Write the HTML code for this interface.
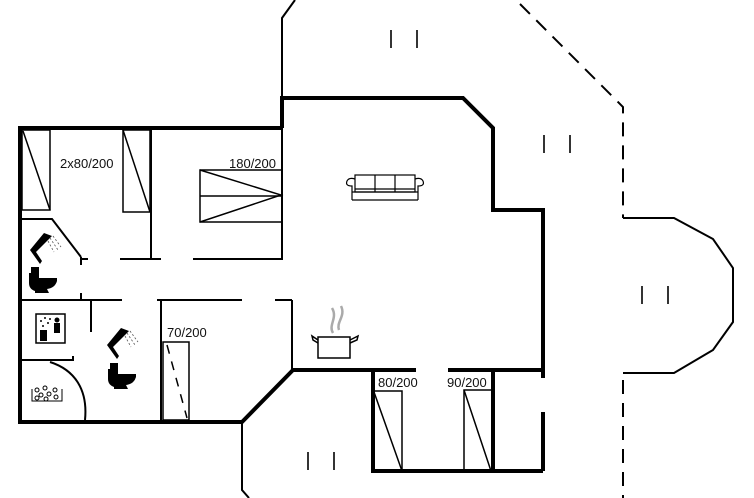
<!DOCTYPE html>
<html><head><meta charset="utf-8"><style>
html,body{margin:0;padding:0;background:#fff;}
svg{display:block;}
text{font-family:"Liberation Sans",sans-serif;font-size:13px;fill:#111;}
</style></head><body>
<svg width="754" height="498" viewBox="0 0 754 498" xmlns="http://www.w3.org/2000/svg">
<g fill="none" stroke="#000" stroke-linecap="butt" stroke-linejoin="miter">
<!-- thin outer terrace -->
<g stroke-width="2">
<polyline points="282,98 282,18 295,0"/>
<polyline points="623,218 674,218 713,239 733,268 733,322 713,350 674,373 623,373"/>
<polyline points="242,421 242,490 249,498"/>
</g>
<g stroke-width="2" stroke-dasharray="14,9">
<polyline points="520,4 623,107 623,218"/>
<line x1="623" y1="380" x2="623" y2="498"/>
</g>
<!-- thick walls -->
<g stroke-width="4">
<polyline points="282,128 282,98 463,98 493,128 493,210 543,210 543,378"/>
<line x1="543" y1="412" x2="543" y2="471"/>
<polyline points="20,128 282,128"/>
<polyline points="20,126 20,422 242,422 293,370 373,370"/>
<polyline points="373,370 373,471 543,471"/>
<line x1="493" y1="370" x2="493" y2="471"/>
<line x1="448" y1="370" x2="543" y2="370"/>
<line x1="373" y1="370" x2="416" y2="370"/>
</g>
<!-- thin interior walls -->
<g stroke-width="2">
<line x1="282" y1="128" x2="282" y2="259"/>
<line x1="151" y1="128" x2="151" y2="259"/>
<line x1="81" y1="259" x2="88" y2="259"/>
<line x1="120" y1="259" x2="161" y2="259"/>
<line x1="193" y1="259" x2="283" y2="259"/>
<polyline points="22,219 52,219 81,257"/>
<line x1="81" y1="257" x2="81" y2="265"/>
<line x1="81" y1="293" x2="81" y2="300"/>
<line x1="20" y1="300" x2="122" y2="300"/>
<line x1="157" y1="300" x2="242" y2="300"/>
<line x1="275" y1="300" x2="292" y2="300"/>
<line x1="292" y1="300" x2="292" y2="370"/>
<line x1="91" y1="300" x2="91" y2="332"/>
<polyline points="22,360 73,360 73,356"/>
<line x1="161" y1="300" x2="161" y2="420"/>
<path d="M50,362 C75,370 88,390 85,420"/>
</g>
<!-- beds -->
<g stroke-width="1.5">
<rect x="22" y="130" width="28" height="80"/><line x1="23" y1="131" x2="50" y2="210"/>
<rect x="123" y="130" width="27" height="82"/><line x1="123" y1="130" x2="150" y2="212"/>
<rect x="200" y="170" width="82" height="52"/><line x1="200" y1="196" x2="282" y2="196"/>
<polyline points="200,170 281,195 200,222"/>
<rect x="163" y="342" width="26" height="78"/>
<line x1="167" y1="345" x2="187" y2="418" stroke-dasharray="9,8"/>
<rect x="374" y="391" width="28" height="80"/><line x1="374" y1="392" x2="402" y2="471"/>
<rect x="464" y="390" width="29" height="81"/><line x1="464" y1="390" x2="491" y2="471"/>
</g>
<!-- ticks -->
<g stroke-width="1.6">
<line x1="391" y1="30" x2="391" y2="48"/><line x1="417" y1="30" x2="417" y2="48"/>
<line x1="544" y1="135" x2="544" y2="153"/><line x1="570" y1="135" x2="570" y2="153"/>
<line x1="642" y1="286" x2="642" y2="304"/><line x1="668" y1="286" x2="668" y2="304"/>
<line x1="308" y1="452" x2="308" y2="470"/><line x1="334" y1="452" x2="334" y2="470"/>
</g>
<!-- sofa -->
<g stroke-width="1.2">
<rect x="355" y="175" width="60" height="17"/>
<line x1="375" y1="175" x2="375" y2="192"/><line x1="395" y1="175" x2="395" y2="192"/>
<line x1="355" y1="189" x2="415" y2="189"/>
<path d="M352,200 L352,186 Q345,186 347,181 Q349,177 355,179"/>
<path d="M418,200 L418,186 Q425,186 423,181 Q421,177 415,179"/>
<line x1="352" y1="200" x2="418" y2="200"/>
<line x1="352" y1="192" x2="418" y2="192"/>
</g>
<!-- pot -->
<g stroke-width="1.5">
<rect x="318" y="337" width="32" height="21"/>
<path d="M318,340 L312,336 L313,340 L318,343"/>
<path d="M350,340 L358,336 L357,340 L350,343"/>
</g>
<g stroke="#aaa" stroke-width="2.5">
<path d="M333,333 C328,325 338,318 332,308"/>
<path d="M339,330 C336,322 346,316 341,306"/>
</g>
</g>
<!-- bathroom icons -->
<g fill="#000">
<path d="M30,250 L44,233 L52,236 L48,240 L36,252 L42,261 L40,264 Z"/>
<path d="M31,267 h8 v6 h-8z M29,273 h10 v5 h18 v3 q-2,7 -10,8 l2,4 h-14 v-2 q-6,-2 -6,-8z"/>
<path d="M107,345 L121,328 L129,331 L125,335 L113,347 L119,356 L117,359 Z"/>
<path d="M110,363 h8 v6 h-8z M108,369 h10 v5 h18 v3 q-2,7 -10,8 l2,4 h-14 v-2 q-6,-2 -6,-8z"/>
</g>
<g stroke="#555" stroke-width="0.8" stroke-dasharray="2,2">
<line x1="50" y1="238" x2="58" y2="250"/><line x1="53" y1="236" x2="61" y2="247"/><line x1="48" y1="241" x2="54" y2="252"/>
<line x1="127" y1="333" x2="135" y2="345"/><line x1="130" y1="331" x2="138" y2="342"/><line x1="125" y1="336" x2="131" y2="347"/>
</g>
<!-- sauna icon -->
<g>
<rect x="36" y="314" width="29" height="29" fill="none" stroke="#000" stroke-width="1.5"/>
<rect x="40" y="330" width="7" height="11" fill="#000"/>
<circle cx="57" cy="320" r="2.5" fill="#000"/>
<rect x="54" y="323" width="6" height="10" fill="#000"/>
<g fill="#000"><circle cx="41" cy="321" r="1"/><circle cx="45" cy="318" r="1"/><circle cx="48" cy="323" r="1"/><circle cx="43" cy="326" r="1"/><circle cx="50" cy="319" r="1"/></g>
</g>
<!-- jacuzzi icon -->
<g fill="none" stroke="#000" stroke-width="1">
<path d="M32,389 v12 h30 v-12"/>
<circle cx="37" cy="390" r="2"/><circle cx="45" cy="388" r="2"/><circle cx="55" cy="390" r="2"/>
<circle cx="41" cy="395" r="2"/><circle cx="49" cy="394" r="2"/><circle cx="37" cy="398" r="2"/><circle cx="56" cy="397" r="2"/><circle cx="46" cy="399" r="2"/>
</g>
<text x="60" y="168">2x80/200</text>
<text x="229" y="168">180/200</text>
<text x="167" y="337">70/200</text>
<text x="378" y="387">80/200</text>
<text x="447" y="387">90/200</text>
</svg>
</body></html>
